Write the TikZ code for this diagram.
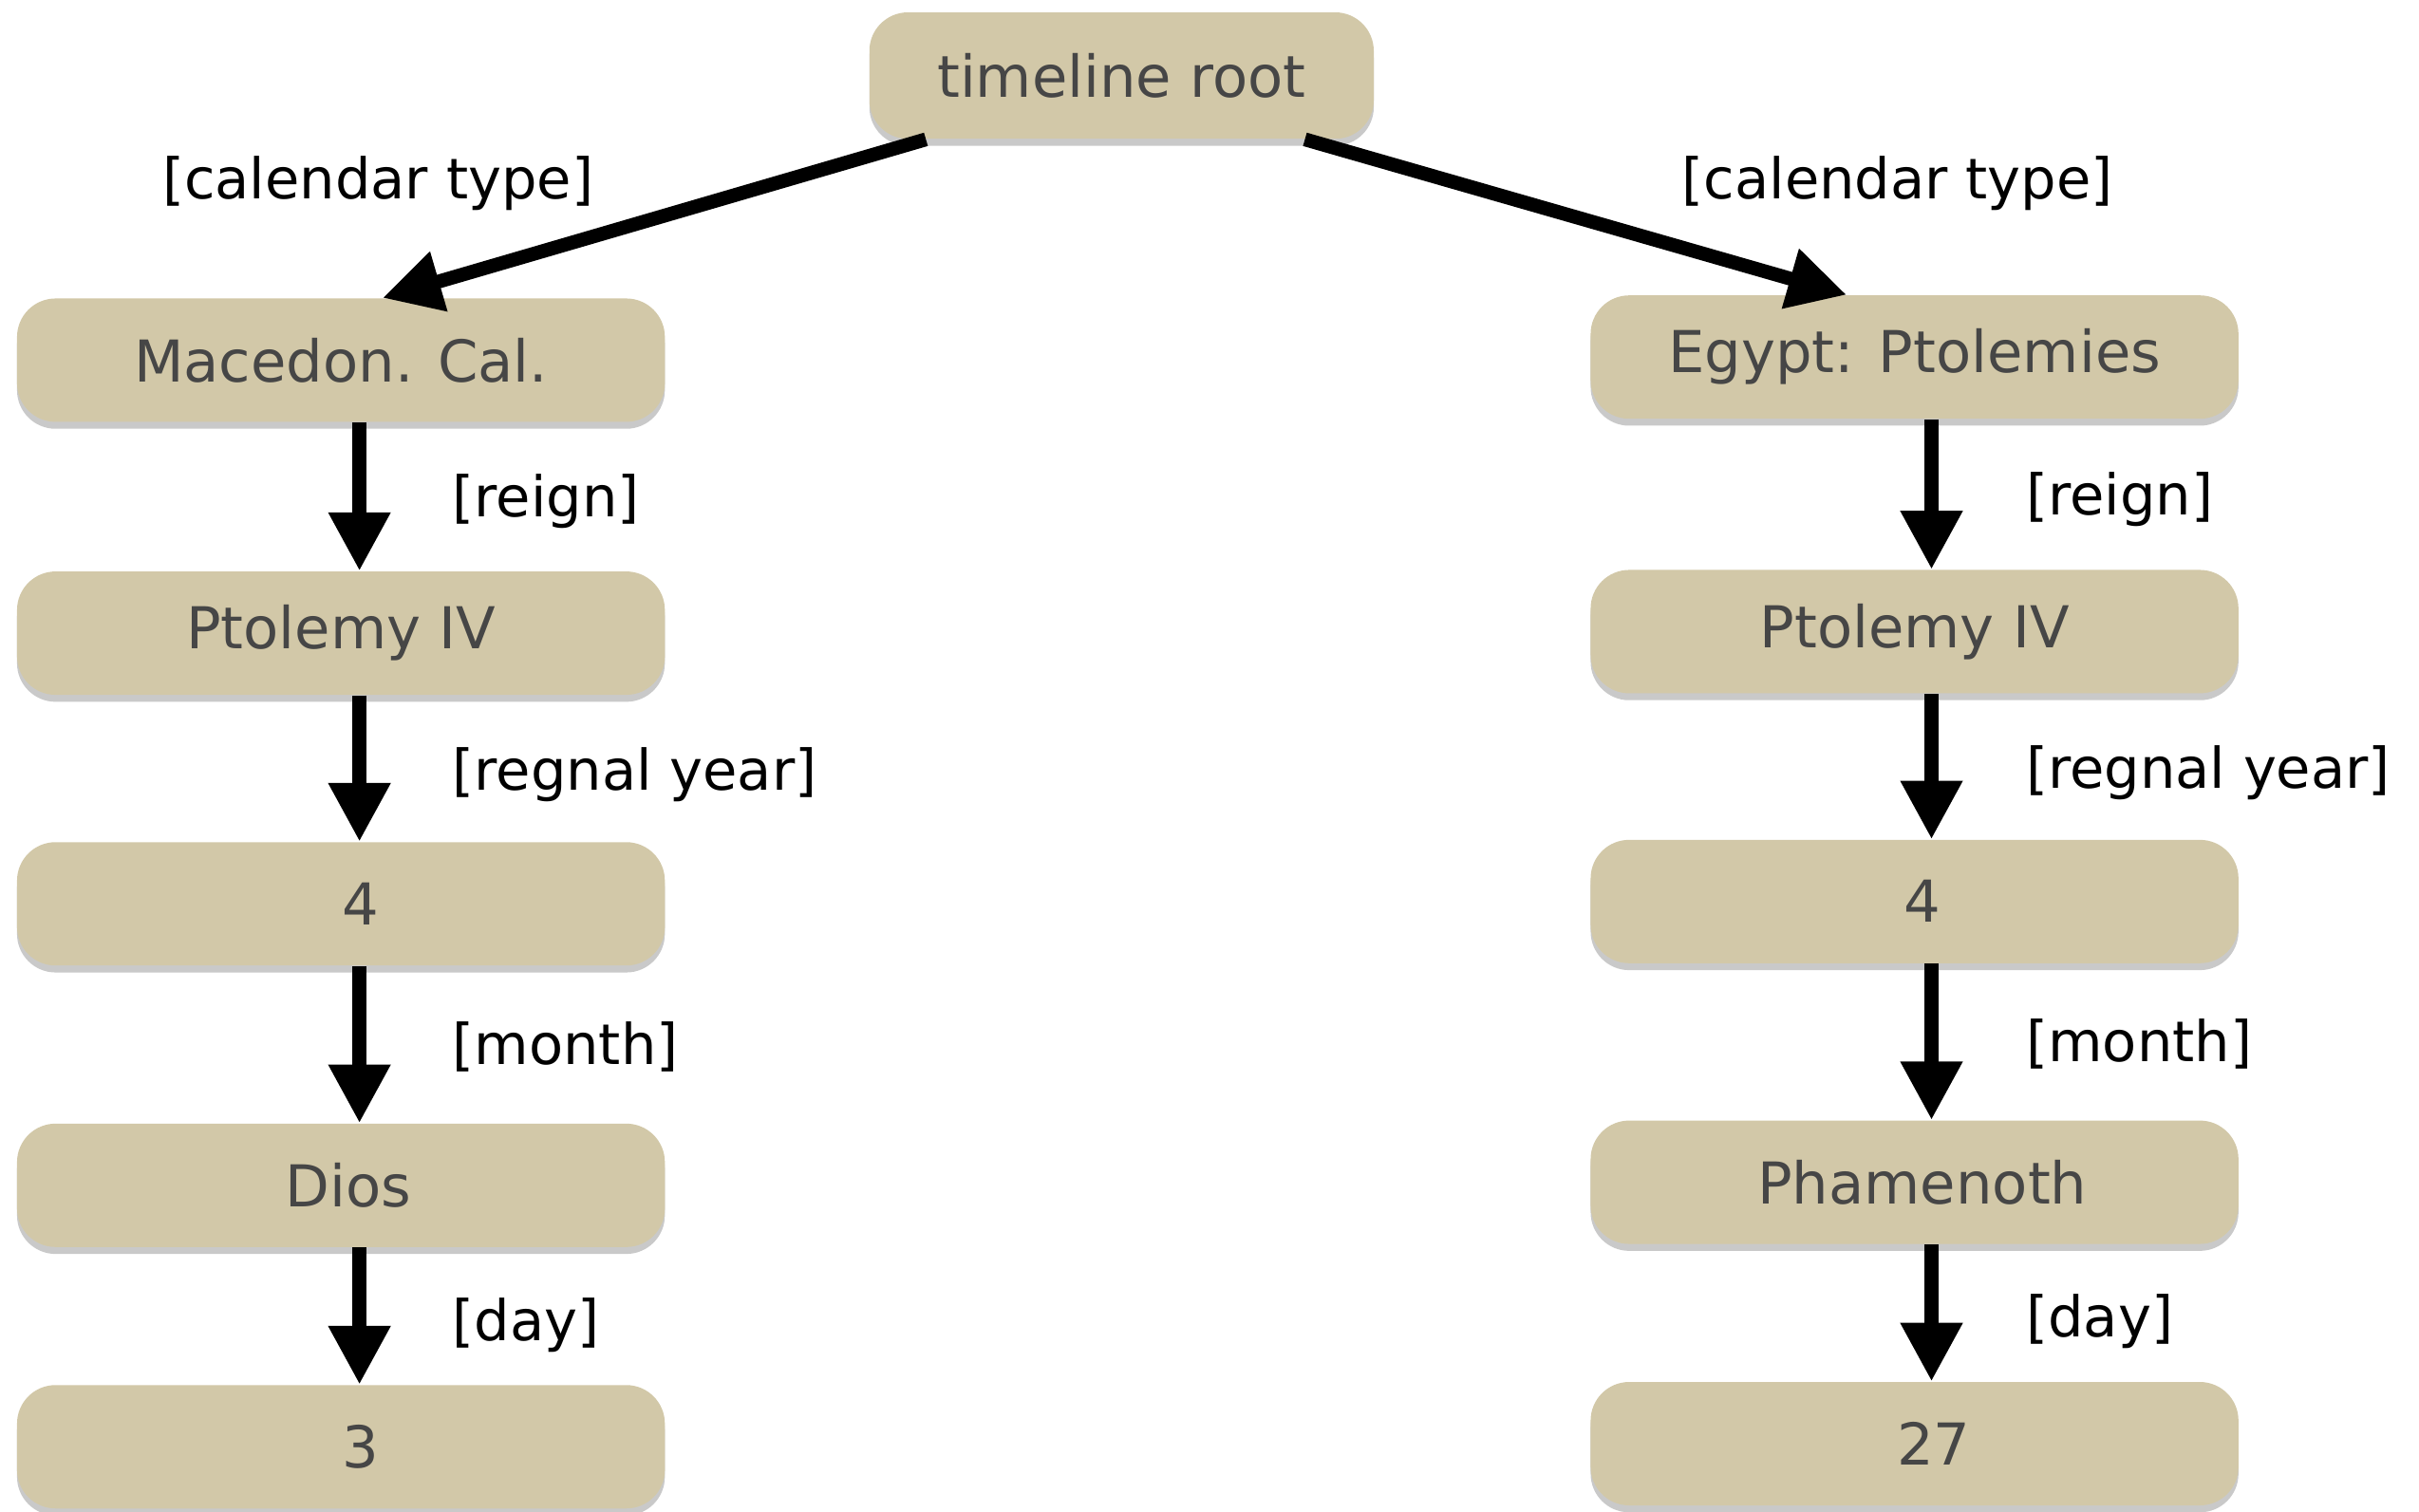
\documentclass[tikz,border=0pt]{standalone}
\usepackage{fontspec}
\setmainfont{DejaVu Sans}
\usepackage{tikz}
\usetikzlibrary{shadows}
\usetikzlibrary{positioning, arrows.meta}

\definecolor{boxfill}{RGB}{210,200,168}
\definecolor{boxtext}{RGB}{70,70,70}

\begin{document}
\begin{tikzpicture}[x=0.02cm, y=-0.02cm]
        % Define styles for shapes
        \tikzset{
            calbox/.style={fill=boxfill, rounded corners=0.5cm, minimum width=8.4cm, minimum height=1.6cm,
                text=boxtext, font=\fontsize{21.3}{25}\selectfont,
                drop shadow={shadow xshift=0cm, shadow yshift=-0.09cm, opacity=0.3, fill=black!70}},
            rootbox/.style={calbox, minimum width=6.54cm, minimum height=1.64cm},
            conn/.style={line width=0.18cm, -{Triangle[width=0.76cm, length=0.76cm]}},
            edgelabel/.style={anchor=west, inner sep=0pt, font=\fontsize{20.7}{24}\selectfont}
        }
        \useasboundingbox (0,0) rectangle (1568,979.7);
        % Draw shapes
        \node[rootbox] (root) at (727, 49) {timeline root};

        \node[calbox] (mac) at (221, 233.5) {Macedon. Cal.};
        \node[calbox] (macreign) at (221, 410.5) {Ptolemy IV};
        \node[calbox] (macyear) at (221, 586) {\hspace*{0.5cm}4};
        \node[calbox] (macmonth) at (221, 768.5) {\hspace*{0.2cm}Dios};
        \node[calbox] (macday) at (221, 938) {\hspace*{0.5cm}3};

        \node[calbox] (egy) at (1241, 231.5) {Egypt: Ptolemies};
        \node[calbox] (egyreign) at (1241, 409.5) {Ptolemy IV};
        \node[calbox] (egyyear) at (1241, 584.5) {\hspace*{0.2cm}4};
        \node[calbox] (egymonth) at (1241, 766.5) {\hspace*{0.2cm}Phamenoth};
        \node[calbox] (egyday) at (1241, 936) {\hspace*{0.5cm}27};
        % Draw arrows
        \draw[conn] ([xshift=0.74cm]root.south west) -- ([xshift=0.54cm]mac.north);
        \draw[conn] ([xshift=-0.9cm]root.south east) -- ([xshift=-0.88cm]egy.north);

        \draw[conn] ([xshift=0.24cm]mac.south) -- ([xshift=0.24cm]macreign.north);
        \draw[conn] ([xshift=0.24cm]macreign.south) -- ([xshift=0.24cm]macyear.north);
        \draw[conn] ([xshift=0.24cm]macyear.south) -- ([xshift=0.24cm]macmonth.north);
        \draw[conn] ([xshift=0.24cm]macmonth.south) -- ([xshift=0.24cm]macday.north);

        \draw[conn] ([xshift=0.22cm]egy.south) -- ([xshift=0.22cm]egyreign.north);
        \draw[conn] ([xshift=0.22cm]egyreign.south) -- ([xshift=0.22cm]egyyear.north);
        \draw[conn] ([xshift=0.22cm]egyyear.south) -- ([xshift=0.22cm]egymonth.north);
        \draw[conn] ([xshift=0.22cm]egymonth.south) -- ([xshift=0.22cm]egyday.north);
        % Labels
        \node[edgelabel] (lcal) at (105, 119) {[calendar type]};
        \node[edgelabel] (rcal) at (1090, 119) {[calendar type]};

        \node[edgelabel] (lreign) at (293, 325) {[reign]};
        \node[edgelabel] (lyear) at (293, 502) {[regnal year]};
        \node[edgelabel] (lmonth) at (293, 679) {[month]};
        \node[edgelabel] (lday) at (293, 859) {[day]};

        \node[edgelabel] (rreign) at (1313, 324) {[reign]};
        \node[edgelabel] (ryear) at (1313, 501) {[regnal year]};
        \node[edgelabel] (rmonth) at (1313, 677) {[month]};
        \node[edgelabel] (rday) at (1313, 857) {[day]};
    \end{tikzpicture}
\end{document}
